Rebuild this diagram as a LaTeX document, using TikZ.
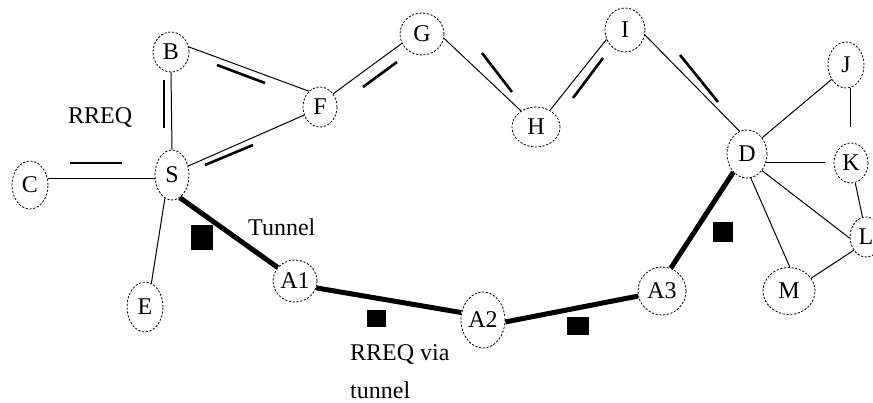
\documentclass[tikz,border=0pt]{standalone}
\usepackage{fontspec}
\setmainfont{Liberation Serif}
\usetikzlibrary{shapes.geometric}
\begin{document}
\begin{tikzpicture}[x=1pt,y=-1pt,
  peer/.style={ellipse,draw,dash pattern=on 2.2pt off 1.6pt,line width=0.8pt,
    inner sep=0pt,font=\fontsize{24}{26}\selectfont},
  link/.style={line width=1pt},
  tunnel/.style={line width=5pt},
  rreq/.style={line width=2.6pt},
  tag/.style={font=\fontsize{24}{26}\selectfont,inner sep=0pt},
  pkt/.style={fill=black}]
\fill[white] (0,0) rectangle (873,403);
\useasboundingbox (0,0) rectangle (873,403);

% mobile nodes
\node[peer,minimum width=36pt,minimum height=48pt] (C)  at (30,185)  {C};
\node[peer,minimum width=34pt,minimum height=50pt] (S)  at (172,175) {S};
\node[peer,minimum width=36pt,minimum height=40pt] (B)  at (171,52)  {B};
\node[peer,minimum width=34pt,minimum height=40pt] (F)  at (320,107) {F};
\node[peer,minimum width=44pt,minimum height=42pt] (G)  at (422,34)  {G};
\node[peer,minimum width=48pt,minimum height=40pt] (H)  at (536,127) {H};
\node[peer,minimum width=40pt,minimum height=44pt] (I)  at (625,30)  {I};
\node[peer,minimum width=36pt,minimum height=46pt] (J)  at (846,65)  {J};
\node[peer,minimum width=40pt,minimum height=48pt] (D)  at (747,154) {D};
\node[peer,minimum width=34pt,minimum height=40pt] (K)  at (851,163) {K};
\node[peer,minimum width=32pt,minimum height=40pt] (L)  at (866,237) {L};
\node[peer,minimum width=52pt,minimum height=47pt] (M)  at (789,291) {M};
\node[peer,minimum width=36pt,minimum height=50pt] (E)  at (145,307) {E};
\node[peer,minimum width=44pt,minimum height=42pt] (A1) at (295,281) {A1};
\node[peer,minimum width=44pt,minimum height=56pt] (A2) at (483,320) {A2};
\node[peer,minimum width=48pt,minimum height=48pt] (A3) at (662,291) {A3};

% ordinary radio links
\draw[link] (S.190) -- (S.190 -| C.east);
\draw[link] (B.south) -- (S.north);
\draw[link] (B.16) -- (F.125);
\draw[link] (S.29) -- (F.207);
\draw[link] (S.253) -- (E.75);
\draw[link] (F.45) -- (G.205);
\draw[link] (G.-11) -- (H.133);
\draw[link] (H.50) -- (I.207);
\draw[link] (I.-14) -- (D.108);
\draw[link] (D.47) -- (J.225);
\draw[link,shorten >=16pt] (J.-80) -- (J.-80 |- K.north);
\draw[link,shorten >=9pt] (D.-24) -- (D.-24 -| K.west);
\draw[link] (K.-78) -- (L.100);
\draw[link] (D.-48) -- (L.184);
\draw[link] (D.-81) -- (M.88);
\draw[link] (M.30) -- (L.227);

% wormhole tunnel
\draw[tunnel] (S.-71) -- (A1.142);
\draw[tunnel] (A1.-18) -- (A2.161);
\draw[tunnel] (A2.-5) -- (A3.192);
\draw[tunnel] (A3.69) -- (D.233);

% RREQ flooding marks beside the links
\draw[rreq] (70,163) -- (122,163);
\draw[rreq] (164,80) -- (164,128);
\draw[rreq] (217,65) -- (265,83);
\draw[rreq] (205,165) -- (253,145);
\draw[rreq] (363,87) -- (397,62);
\draw[rreq] (482,53) -- (512,92);
\draw[rreq] (573,98) -- (603,58);
\draw[rreq] (680,55) -- (718,102);

% packets in the tunnel
\fill[pkt] (191,225) rectangle (213,250);
\fill[pkt] (367,310) rectangle (386,327);
\fill[pkt] (567,317) rectangle (589,335);
\fill[pkt] (713,222) rectangle (733,242);

% labels
\node[tag,anchor=base west] (rreqlabel) at (68,124) {RREQ};
\node[tag,anchor=base west] (tunnellabel) at (248,236) {Tunnel};
\node[tag,anchor=base west] (vialabel) at (350,360) {RREQ via};
\node[tag,anchor=base west] (vialabel2) at (350,399) {tunnel};
\end{tikzpicture}
\end{document}
